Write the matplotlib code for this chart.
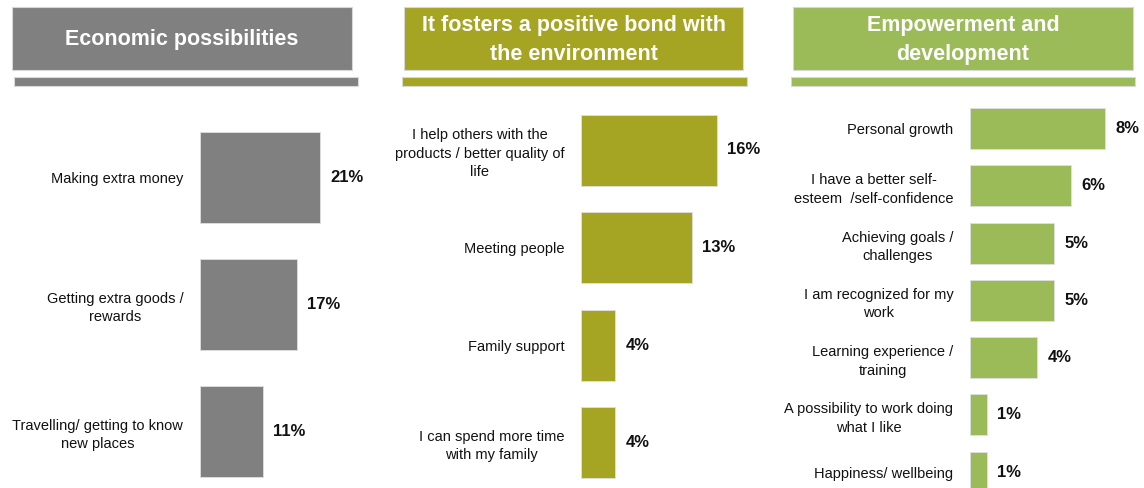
import matplotlib.pyplot as plt
from matplotlib.patches import Rectangle

# data for the three panels
titles = ["Economic possibilities",
          "It fosters a positive bond with\nthe environment",
          "Empowerment and\ndevelopment"]

econ_labels = ["Making extra money",
               "Getting extra goods /\nrewards",
               "Travelling/ getting to know\nnew places"]
econ_values = [21, 17, 11]

env_labels = ["I help others with the\nproducts / better quality of\nlife",
              "Meeting people",
              "Family support",
              "I can spend more time\nwith my family"]
env_values = [16, 13, 4, 4]

emp_labels = ["Personal growth",
              "I have a better self-\nesteem  /self-confidence",
              "Achieving goals /\nchallenges",
              "I am recognized for my\nwork",
              "Learning experience /\ntraining",
              "A possibility to work doing\nwhat I like",
              "Happiness/ wellbeing"]
emp_values = [8, 6, 5, 5, 4, 1, 1]

colors = ["#808080", "#A5A523", "#9BBB59"]
FONT = ["Liberation Sans", "DejaVu Sans"]

W, H = 1144, 488
fig = plt.figure(figsize=(W / 100, H / 100), dpi=100)


def fx(x):
    return x / W


def fy(y):
    return 1 - y / H


# header boxes and underline strips (pixel layout)
heads = [(12, 352, 14, 358), (404, 743, 402, 747), (793, 1133, 791, 1135)]
for (x0, x1, u0, u1), t, c in zip(heads, titles, colors):
    fig.patches.append(Rectangle((fx(x0), fy(70)), fx(x1 - x0), 63 / H,
                                 transform=fig.transFigure, facecolor=c,
                                 edgecolor="#d8d8d8", lw=0.8))
    fig.patches.append(Rectangle((fx(u0), fy(86)), fx(u1 - u0), 9 / H,
                                 transform=fig.transFigure, facecolor=c,
                                 edgecolor="#d8d8d8", lw=0.8))
    fig.text(fx((x0 + x1) / 2), fy(40), t, color="white", fontsize=15.5,
             fontweight="bold", ha="center", va="center", family=FONT,
             linespacing=1.55)


def panel(labels, values, color, x0, scale, c0, step, bar_h, top, bottom):
    # x0: pixel of zero, scale: pixels per percent
    ax = fig.add_axes([fx(x0), fy(bottom), fx(W - x0 - 5), (bottom - top) / H])
    xmax = (W - x0 - 5) / scale
    n = len(values)
    pos = list(range(n))
    ax.barh(pos, values, height=bar_h / step, color=color,
            edgecolor="#e0e0e0", lw=0.6)
    ax.set_xlim(0, xmax)
    ax.set_ylim((bottom - c0) / step, (top - c0) / step)
    ax.set_yticks(pos)
    ax.set_yticklabels(labels, fontsize=10.5, family=FONT, color="#111111",
                       linespacing=1.4)
    for t in ax.get_yticklabels():
        t.set_multialignment("center")
    ax.tick_params(axis="y", length=0, pad=12)
    ax.set_xticks([])
    for s in ax.spines.values():
        s.set_visible(False)
    ax.patch.set_alpha(0)
    for p, v in zip(pos, values):
        ax.annotate(f"{v}%", (v, p), xytext=(7.5, 0), textcoords="offset points",
                    va="center", ha="left", fontsize=12, fontweight="bold",
                    family=FONT, color="#111111")
    return ax


panel(econ_labels, econ_values, colors[0], 200, 5.7, 177.5, 127, 91, 100, 488)
panel(env_labels, env_values, colors[1], 581, 8.5, 150, 97.5, 71, 100, 488)
panel(emp_labels, emp_values, colors[2], 970, 16.85, 128.5, 57.3, 41, 100, 488)

fig.savefig("out.png", dpi=100, facecolor="white")
